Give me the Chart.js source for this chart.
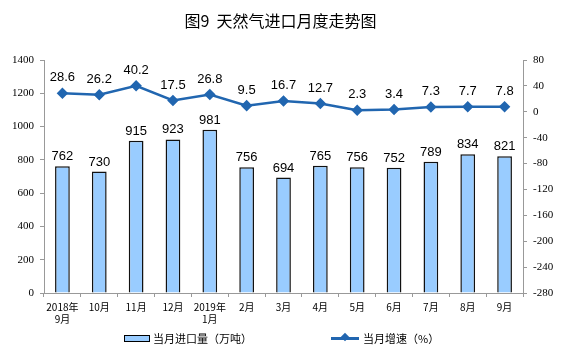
<!DOCTYPE html>
<html><head><meta charset="utf-8">
<script src="https://cdn.jsdelivr.net/npm/chart.js@4/dist/chart.umd.min.js"></script>
<style>
html,body{margin:0;padding:0;background:#fff;}
#wrap{position:relative;width:561px;height:357px;}
#title{position:absolute;left:0;top:8px;width:100%;text-align:center;font:16px "Noto Sans CJK SC",sans-serif;color:#000;}
#legend{position:absolute;top:329px;left:0;width:561px;font:11px "Noto Sans CJK SC",sans-serif;color:#000;}
.li{position:absolute;display:flex;align-items:center;height:18px;}
.box{width:24px;height:5px;border:1.5px solid #000;background:#99ccff;margin-right:3px;}
.ln{position:relative;width:28px;height:3px;background:#2166b0;margin-right:4px;}
.ln:after{content:"";position:absolute;left:11px;top:-2.5px;width:6px;height:6px;background:#2166b0;transform:rotate(45deg);}
</style></head>
<body>
<div id="wrap">
<canvas id="c" width="561" height="357"></canvas>
<div id="title">图9&nbsp;&nbsp;天然气进口月度走势图</div>
<div id="legend">
<div class="li" style="left:124px"><div class="box"></div>当月进口量（万吨）</div>
<div class="li" style="left:331px"><div class="ln"></div>当月增速（%）</div>
</div>
</div>
<script>
const categories = [["2018年","9月"],"10月","11月","12月",["2019年","1月"],"2月","3月","4月","5月","6月","7月","8月","9月"];
const importVolume = [762,730,915,923,981,756,694,765,756,752,789,834,821];
const growthRate = [28.6,26.2,40.2,17.5,26.8,9.5,16.7,12.7,2.3,3.4,7.3,7.7,7.8];
const leftTicks = [0,200,400,600,800,1000,1200,1400];
const rightTicks = [-280,-240,-200,-160,-120,-80,-40,0,40,80];

const labelPlugin = {
  id:'labels',
  afterDatasetsDraw(chart){
    const ctx = chart.ctx;
    ctx.save();
    ctx.font = '13px "Liberation Sans", Arial, sans-serif';
    ctx.fillStyle = '#000';
    ctx.textAlign = 'center';
    ctx.textBaseline = 'bottom';
    chart.getDatasetMeta(1).data.forEach((el,i)=>{
      ctx.fillText(String(importVolume[i]), el.x, el.y - 3);
    });
    chart.getDatasetMeta(0).data.forEach((el,i)=>{
      ctx.fillText(growthRate[i].toFixed(1), el.x, el.y - 9);
    });
    ctx.restore();
  }
};

const tickFont = {family:'"Liberation Serif", "Times New Roman", serif',size:11};

new Chart(document.getElementById('c'),{
  data:{
    labels:categories,
    datasets:[
      {type:'line',label:'当月增速（%）',data:growthRate,yAxisID:'y1',borderColor:'#2166b0',backgroundColor:'#2166b0',borderWidth:2.5,pointStyle:'rectRot',pointRadius:4,pointHoverRadius:4,tension:0,order:0},
      {type:'bar',label:'当月进口量（万吨）',data:importVolume,yAxisID:'y',backgroundColor:'#99ccff',borderColor:'#111',borderWidth:1.5,categoryPercentage:1,barPercentage:0.40,order:1}
    ]
  },
  options:{
    responsive:false,animation:false,
    layout:{padding:{top:60,left:0,right:0,bottom:0}},
    plugins:{legend:{display:false},tooltip:{enabled:false}},
    scales:{
      x:{
        grid:{display:true,drawOnChartArea:false,offset:true,tickLength:4,color:'#999'},
        border:{color:'#999'},
        ticks:{font:{family:'"Noto Sans CJK SC", sans-serif',size:10},color:'#000',maxRotation:0,autoSkip:false,padding:4},
        afterFit(s){s.height=64;}
      },
      y:{
        position:'left',min:0,max:1400,
        afterBuildTicks(s){s.ticks=leftTicks.map(v=>({value:v}));},
        grid:{drawOnChartArea:false,tickLength:4,color:'#999'},
        border:{color:'#999'},
        ticks:{font:tickFont,color:'#000',padding:6,callback:v=>String(v)},
        afterFit(s){s.width=44;}
      },
      y1:{
        position:'right',min:-280,max:80,
        afterBuildTicks(s){s.ticks=rightTicks.map(v=>({value:v}));},
        grid:{drawOnChartArea:false,tickLength:4,color:'#999'},
        border:{color:'#999'},
        ticks:{font:tickFont,color:'#000',padding:6,callback:v=>String(v)},
        afterFit(s){s.width=38;}
      }
    }
  },
  plugins:[labelPlugin]
});
</script>
</body></html>
